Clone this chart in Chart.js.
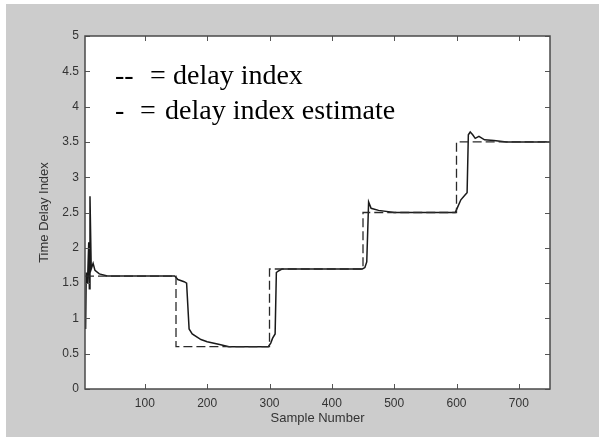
<!DOCTYPE html>
<html>
<head>
<meta charset="utf-8">
<script src="https://cdn.jsdelivr.net/npm/chart.js@4.4.1/dist/chart.umd.min.js"></script>
<style>
    html, body { margin: 0; padding: 0; background: #fff; }
    #wrap { width: 599px; height: 437px; }
</style>
</head>
<body>
<div id="wrap"><canvas id="delayChart" width="599" height="437"></canvas></div>
<script>
// true delay index (dashed), step changes every 150 samples
const delaySamples = [4, 150, 150, 300, 300, 450, 450, 600, 600, 750];
const delayValues  = [1.6, 1.6, 0.6, 0.6, 1.7, 1.7, 2.5, 2.5, 3.5, 3.5];

// estimated delay index (solid)
const estSamples = [5, 6, 8, 10, 11, 12, 14, 17, 20, 27, 40, 148, 153, 163, 167, 171, 176, 190, 200, 220, 235,
                    298, 302, 305, 309, 311, 314, 320, 340, 449, 453, 456, 459, 463, 475, 500,
                    598, 602, 607, 614, 617, 619, 622, 626, 630, 636, 645, 660, 680, 750];
const estValues  = [0.85, 1.65, 1.5, 2.08, 1.42, 2.73, 1.7, 1.78, 1.68, 1.63, 1.6, 1.6, 1.55, 1.52, 1.5, 0.85, 0.78, 0.7, 0.67, 0.63, 0.6,
                    0.6, 0.65, 0.72, 0.78, 1.65, 1.67, 1.7, 1.7, 1.7, 1.72, 1.8, 2.65, 2.56, 2.53, 2.5,
                    2.5, 2.58, 2.68, 2.75, 2.78, 3.6, 3.64, 3.6, 3.55, 3.58, 3.53, 3.52, 3.5, 3.5];

const xTicks = [100, 200, 300, 400, 500, 600, 700];
const yTicks = [0, 0.5, 1, 1.5, 2, 2.5, 3, 3.5, 4, 4.5, 5];

const legendLines = [
    { mark: '--', eq: '=', text: 'delay index' },
    { mark: '-', eq: '=', text: 'delay index estimate' }
];

function toPoints(xs, ys) {
    return xs.map((x, i) => ({ x: x, y: ys[i] }));
}

// figure background: gray panel, white axes box
const backgroundPlugin = {
    id: 'figureBackground',
    beforeDraw(chart) {
        const { ctx, chartArea } = chart;
        ctx.save();
        ctx.fillStyle = '#ffffff';
        ctx.fillRect(0, 0, chart.width, chart.height);
        ctx.fillStyle = '#cccccc';
        ctx.fillRect(6, 4, chart.width - 6, chart.height - 4);
        ctx.fillStyle = '#ffffff';
        ctx.fillRect(chartArea.left, chartArea.top, chartArea.right - chartArea.left, chartArea.bottom - chartArea.top);
        ctx.restore();
    }
};

// matlab style box with inward ticks on all four sides
const boxPlugin = {
    id: 'matlabBox',
    afterDatasetsDraw(chart) {
        const { ctx, chartArea } = chart;
        const xs = chart.scales.x;
        const ys = chart.scales.y;
        const len = 5;
        ctx.save();
        ctx.strokeStyle = '#555555';
        ctx.lineWidth = 1;
        ctx.beginPath();
        xs.ticks.forEach((t, i) => {
            const px = Math.round(xs.getPixelForTick(i)) + 0.5;
            ctx.moveTo(px, chartArea.bottom);
            ctx.lineTo(px, chartArea.bottom - len);
            ctx.moveTo(px, chartArea.top);
            ctx.lineTo(px, chartArea.top + len);
        });
        ys.ticks.forEach((t, i) => {
            const py = Math.round(ys.getPixelForTick(i)) + 0.5;
            ctx.moveTo(chartArea.left, py);
            ctx.lineTo(chartArea.left + len, py);
            ctx.moveTo(chartArea.right, py);
            ctx.lineTo(chartArea.right - len, py);
        });
        ctx.stroke();
        ctx.lineWidth = 1.5;
        ctx.strokeStyle = '#4a4a4a';
        ctx.strokeRect(chartArea.left, chartArea.top, chartArea.right - chartArea.left, chartArea.bottom - chartArea.top);
        ctx.restore();
    }
};

// hand written legend text inside the axes
const noteTextPlugin = {
    id: 'noteText',
    afterDraw(chart) {
        const { ctx, chartArea } = chart;
        const x0 = chartArea.left + 30;
        const rows = [
            { base: chartArea.top + 48, eqX: x0 + 35, textX: x0 + 58 },
            { base: chartArea.top + 83, eqX: x0 + 25, textX: x0 + 50 }
        ];
        ctx.save();
        ctx.fillStyle = '#000000';
        ctx.font = '28px "Liberation Serif", "Times New Roman", serif';
        ctx.textBaseline = 'alphabetic';
        legendLines.forEach((line, i) => {
            const r = rows[i];
            ctx.fillText(line.mark, x0, r.base);
            ctx.fillText(line.eq, r.eqX, r.base);
            ctx.fillText(line.text, r.textX, r.base);
        });
        ctx.restore();
    }
};

const labelFont = { family: '"Liberation Sans", Arial, sans-serif', size: 12 };
const titleFont = { family: '"Liberation Sans", Arial, sans-serif', size: 13 };

new Chart(document.getElementById('delayChart'), {
    type: 'line',
    data: {
        datasets: [
            {
                label: 'delay index',
                data: toPoints(delaySamples, delayValues),
                borderColor: '#2a2a2a',
                borderWidth: 1.3,
                borderDash: [9, 4],
                pointRadius: 0,
                tension: 0,
                fill: false
            },
            {
                label: 'delay index estimate',
                data: toPoints(estSamples, estValues),
                borderColor: '#1a1a1a',
                borderWidth: 1.5,
                pointRadius: 0,
                tension: 0,
                fill: false
            }
        ]
    },
    options: {
        responsive: false,
        animation: false,
        devicePixelRatio: 1,
        layout: { padding: { left: 6, top: 36, right: 49, bottom: 0 } },
        plugins: {
            legend: { display: false },
            tooltip: { enabled: false }
        },
        scales: {
            x: {
                type: 'linear',
                min: 4,
                max: 750,
                afterBuildTicks: scale => { scale.ticks = xTicks.map(v => ({ value: v })); },
                afterFit: scale => { scale.height = 48; },
                grid: { display: false, drawTicks: false },
                border: { display: false },
                ticks: { padding: 7, color: '#333333', font: labelFont, autoSkip: false, maxRotation: 0, callback: v => String(v) },
                title: { display: true, text: 'Sample Number', color: '#333333', font: titleFont, padding: { top: 0, bottom: 11 } }
            },
            y: {
                type: 'linear',
                min: 0,
                max: 5,
                afterBuildTicks: scale => { scale.ticks = yTicks.map(v => ({ value: v })); },
                afterFit: scale => { scale.width = 79; },
                grid: { display: false, drawTicks: false },
                border: { display: false },
                ticks: { padding: 6, color: '#333333', font: labelFont, autoSkip: false, callback: v => String(v) },
                title: { display: true, text: 'Time Delay Index', color: '#333333', font: titleFont, padding: { top: 31, bottom: 0 } }
            }
        }
    },
    plugins: [backgroundPlugin, boxPlugin, noteTextPlugin]
});
</script>
</body>
</html>
